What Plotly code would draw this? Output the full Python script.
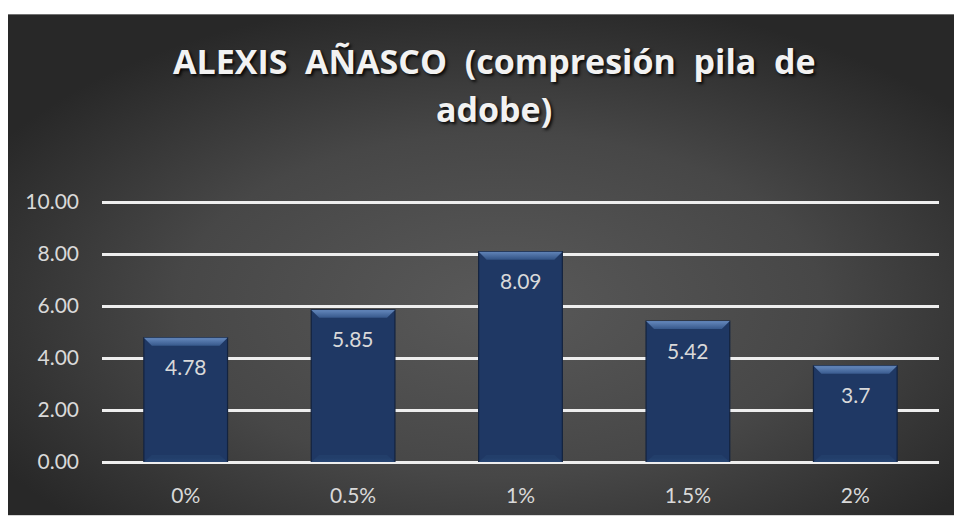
import base64
import plotly.graph_objects as go

# Compressive strength of adobe piles by additive percentage
categories = ["0%", "0.5%", "1%", "1.5%", "2%"]
values = [4.78, 5.85, 8.09, 5.42, 3.7]
y_ticks = [0, 2, 4, 6, 8, 10]
y_tick_labels = ["0.00", "2.00", "4.00", "6.00", "8.00", "10.00"]
title_lines = ["ALEXIS AÑASCO (compresión pila de", "adobe)"]

W, H = 954, 519
Y_MAX = 10.08
M_L, M_R, M_T, M_B = 102, 15, 200, 54
PLOT_W = W - M_L - M_R
PLOT_H = H - M_T - M_B
BAR_W = 0.5  # fraction of a category slot

BAR_COLOR = "#1f3864"
TEXT_COLOR = "#d9d9d9"

fig = go.Figure()

fig.add_trace(go.Bar(
    x=list(range(len(categories))),
    y=values,
    width=BAR_W,
    marker=dict(color=BAR_COLOR, line=dict(color="#13233f", width=1.2)),
    hoverinfo="skip",
    showlegend=False,
))

# bevel strips at the top and bottom of each bar
px_x = len(categories) / PLOT_W          # x-units per pixel
px_y = Y_MAX / PLOT_H                    # y-units per pixel
bev_x = 8 * px_x
bev_top = 8 * px_y
bev_bot = 7 * px_y
for i, v in enumerate(values):
    x0, x1 = i - BAR_W / 2, i + BAR_W / 2
    fig.add_trace(go.Scatter(
        x=[x0, x1, x1 - bev_x, x0 + bev_x, x0],
        y=[v, v, v - bev_top, v - bev_top, v],
        fill="toself", mode="lines", line=dict(width=0),
        fillgradient=dict(type="vertical",
                          colorscale=[[0, "#2e4f82"], [1, "#5d80b4"]],
                          start=v - bev_top, stop=v),
        hoverinfo="skip", showlegend=False,
    ))
    fig.add_trace(go.Scatter(
        x=[x0, x1, x1 - bev_x, x0 + bev_x, x0],
        y=[0, 0, bev_bot, bev_bot, 0],
        fill="toself", mode="lines", line=dict(width=0),
        fillgradient=dict(type="vertical",
                          colorscale=[[0, "#2d4d7d"], [1, "#223e6a"]],
                          start=0, stop=bev_bot),
        hoverinfo="skip", showlegend=False,
    ))

# value labels inside the top of each bar
for i, v in enumerate(values):
    fig.add_annotation(
        x=i, y=v, text=str(v), showarrow=False,
        yanchor="middle", yshift=-29,
        font=dict(family="Lato", size=21, color=TEXT_COLOR),
    )

# two-line chart title with wide word spacing
title_font = dict(family="Open Sans", size=34, color="#f2f2f2", weight="bold",
                  shadow="2px 2px 3px rgba(0,0,0,0.85)")
for line, cy in zip(title_lines, [59, 108]):
    fig.add_annotation(
        text=line.replace(" ", " \u00a0"), showarrow=False,
        xref="paper", yref="paper",
        x=(494 - M_L) / PLOT_W, y=(H - M_B - cy) / PLOT_H,
        xanchor="center", yanchor="middle",
        font=title_font,
    )

# radial background panel
bg_w, bg_h = W - 8, H - 12
svg = (
    f"<svg xmlns='http://www.w3.org/2000/svg' width='{bg_w}' height='{bg_h}'>"
    "<defs><radialGradient id='g' cx='0.52' cy='0.58' r='0.62'>"
    "<stop offset='0' stop-color='#595959'/>"
    "<stop offset='0.55' stop-color='#474747'/>"
    "<stop offset='1' stop-color='#282828'/>"
    "</radialGradient></defs>"
    f"<rect width='{bg_w}' height='{bg_h}' fill='url(#g)'/></svg>"
)
src = "data:image/svg+xml;base64," + base64.b64encode(svg.encode()).decode()
fig.add_layout_image(
    source=src, xref="paper", yref="paper",
    x=(8 - M_L) / PLOT_W, y=(H - M_B - 12) / PLOT_H,
    sizex=bg_w / PLOT_W, sizey=bg_h / PLOT_H,
    xanchor="left", yanchor="top", sizing="stretch", layer="below",
)

fig.update_layout(
    width=W, height=H,
    margin=dict(l=M_L, r=M_R, t=M_T, b=M_B),
    paper_bgcolor="white",
    plot_bgcolor="rgba(0,0,0,0)",
    bargap=1 - BAR_W,
    xaxis=dict(
        tickmode="array",
        tickvals=list(range(len(categories))),
        ticktext=categories,
        range=[-0.5, len(categories) - 0.5],
        showgrid=False, zeroline=False, showline=False,
        ticks="", ticklabelstandoff=19,
        tickfont=dict(family="Lato", size=21, color=TEXT_COLOR),
    ),
    yaxis=dict(
        range=[0, Y_MAX],
        tickmode="array", tickvals=y_ticks, ticktext=y_tick_labels,
        showgrid=True, gridcolor="#eeeeee", gridwidth=2.5,
        zeroline=True, zerolinecolor="#eeeeee", zerolinewidth=2.5,
        showline=False, ticks="", ticklabelstandoff=22,
        tickfont=dict(family="Lato", size=21, color=TEXT_COLOR),
    ),
)

fig.write_html("out.html")
